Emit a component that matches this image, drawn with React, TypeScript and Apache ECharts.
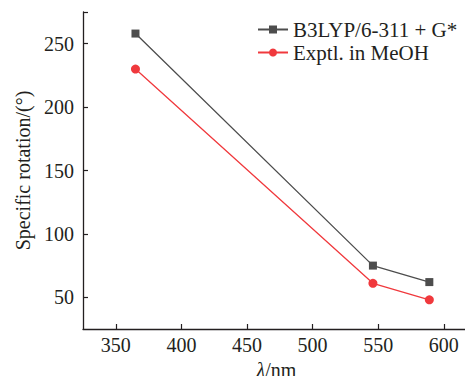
import React, { useEffect, useRef } from "react";
import * as echarts from "echarts";

const wavelengths = [365, 546, 589];
const calcValues = [258, 75, 62];
const exptValues = [230, 61, 48];
const xTicks = [350, 400, 450, 500, 550, 600];
const yTicks = [50, 100, 150, 200, 250];
const seriesNames = ["B3LYP/6-311 + G*", "Exptl. in MeOH"];

const FONT = "Liberation Serif";
const INK = "#231f20";

export default function App() {
  const ref = useRef<HTMLDivElement>(null);
  useEffect(() => {
    if (!ref.current) return;
    const chart = echarts.init(ref.current, undefined, { renderer: "svg" });
    chart.setOption({
      animation: false,
      backgroundColor: "#ffffff",
      textStyle: { fontFamily: FONT, color: INK },
      grid: { left: 83, top: 12, width: 387, height: 317, containLabel: false, outerBoundsMode: "none" },
      legend: {
        orient: "vertical",
        left: 252,
        top: 14,
        itemWidth: 30,
        itemHeight: 10,
        itemGap: 2,
        textStyle: { fontFamily: FONT, fontSize: 21, color: INK, lineHeight: 21 },
        data: seriesNames,
      },
      xAxis: {
        type: "value",
        min: 325,
        max: 620,
        name: "{i|λ}/nm",
        nameLocation: "middle",
        nameGap: 28,
        nameTextStyle: {
          fontFamily: FONT,
          fontSize: 20,
          color: INK,
          verticalAlign: "top",
          rich: { i: { fontStyle: "italic", fontFamily: FONT, fontSize: 20, color: INK } },
        },
        axisLine: { show: true, lineStyle: { color: INK, width: 1.3 } },
        axisTick: { show: true, inside: true, length: 5, customValues: xTicks, lineStyle: { color: INK, width: 1.2 } },
        axisLabel: { customValues: xTicks, fontFamily: FONT, fontSize: 20, color: INK, margin: 6 },
        splitLine: { show: false },
      },
      yAxis: {
        type: "value",
        min: 25,
        max: 275,
        name: "Specific rotation/(°)",
        nameLocation: "middle",
        nameGap: 46,
        nameRotate: 90,
        nameTextStyle: { fontFamily: FONT, fontSize: 20, color: INK },
        axisLine: { show: true, lineStyle: { color: INK, width: 1.3 } },
        axisTick: { show: true, inside: true, length: 5, customValues: [...yTicks, 275], lineStyle: { color: INK, width: 1.2 } },
        axisLabel: { customValues: yTicks, fontFamily: FONT, fontSize: 20, color: INK, margin: 9 },
        splitLine: { show: false },
      },
      series: [
        {
          name: seriesNames[0],
          type: "line",
          data: wavelengths.map((w, i) => [w, calcValues[i]]),
          symbol: "rect",
          symbolSize: 8,
          lineStyle: { color: "#4d4d4d", width: 1.3 },
          itemStyle: { color: "#4d4d4d" },
        },
        {
          name: seriesNames[1],
          type: "line",
          data: wavelengths.map((w, i) => [w, exptValues[i]]),
          symbol: "circle",
          symbolSize: 9,
          lineStyle: { color: "#f0393d", width: 1.3 },
          itemStyle: { color: "#f0393d" },
        },
      ],
    });
    return () => chart.dispose();
  }, []);
  return (
    <div
      ref={ref}
      style={{ position: "fixed", left: 0, top: 0, width: 465, height: 376 }}
    />
  );
}
